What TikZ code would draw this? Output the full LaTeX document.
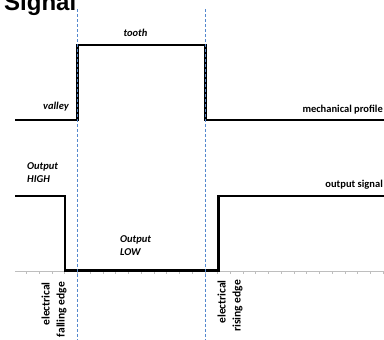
\documentclass[tikz,border=0pt]{standalone}
\usepackage{fontspec}
\setmainfont{Carlito}
\newfontfamily\titlefont{Liberation Sans}
\usetikzlibrary{positioning}
\definecolor{edgeblue}{RGB}{84,136,206}
\definecolor{axisgray}{RGB}{190,190,190}

\begin{document}
\begin{tikzpicture}[x=1pt, y=-1pt,
    signal/.style={line width=2.2pt, line join=miter},
    lbl/.style={inner sep=0pt, font=\fontsize{10.5}{13}\selectfont\bfseries},
    ilbl/.style={inner sep=0pt, font=\fontsize{10.5}{13}\selectfont\bfseries\itshape},
    rlbl/.style={inner sep=0pt, rotate=90, anchor=east, align=right, font=\fontsize{11.5}{15}\selectfont\bfseries},
    edgeline/.style={edgeblue, line width=1.2pt, dash pattern=on 3pt off 2pt}]
    \useasboundingbox (0,0) rectangle (384,340);
    \clip (0,0) rectangle (384,340);

    % Title (cut at the top)
    \node[font=\titlefont\bfseries\fontsize{24}{28}\selectfont, anchor=base west, inner sep=0pt] (title) at (4,10.5) {Signal};

    % Time axis
    \draw[axisgray, line width=1pt] (15,271) -- (384,271);
    \foreach \i in {0,...,28}
        \draw[axisgray, line width=0.8pt] (26.7+12.73*\i,271) -- ++(0,3);

    % Mechanical profile
    \draw[signal] (15,120) -- (77.5,120) -- (77.5,45) -- (205.5,45) -- (205.5,120) -- (384,120);

    % Output signal
    \draw[signal] (15,196) -- (65,196) -- (65,270.5) -- (218.5,270.5) -- (218.5,196) -- (384,196);

    % Tooth edges
    \draw[edgeline] (77.5,9) -- (77.5,340);
    \draw[edgeline] (205.5,9) -- (205.5,340);

    % Labels
    \node[ilbl, anchor=base] (tooth) at (135.5,37) {tooth};
    \node[ilbl, anchor=base east] (valley) at (69,110) {valley};
    \node[lbl, anchor=base east] (mech) at (383,112) {mechanical profile};
    \node[ilbl, anchor=north west, align=left] (high) at (27,162) {Output\\HIGH};
    \node[ilbl, anchor=north west, align=left] (low) at (120,235) {Output\\LOW};
    \node[lbl, anchor=base east] (out) at (383,187) {output signal};
    \node[rlbl] (fall) at (54,282) {electrical\\falling edge};
    \node[rlbl] (rise) at (230,280) {electrical\\rising edge};
\end{tikzpicture}
\end{document}
